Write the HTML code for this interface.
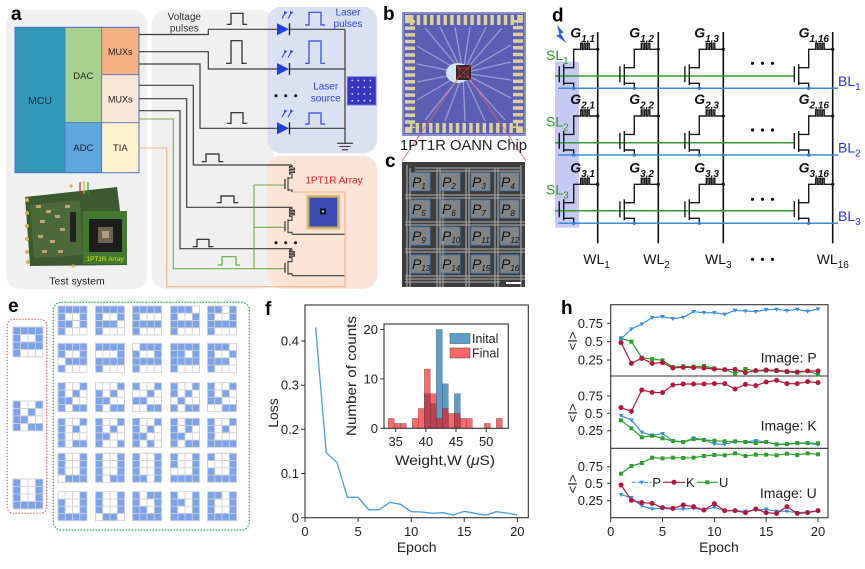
<!DOCTYPE html>
<html><head><meta charset="utf-8">
<style>
html,body{margin:0;padding:0;background:#fff;}
svg{display:block;}
text{font-family:"Liberation Sans",Arial,sans-serif;}
</style></head>
<body>
<svg width="865" height="569" viewBox="0 0 865 569" xmlns="http://www.w3.org/2000/svg">
<defs>
<g id="r1111" fill="#7aa3ee"><rect width="29" height="7.25"/></g>
<g id="r1001" fill="#7aa3ee"><rect width="7.25" height="7.25"/><rect x="21.75" width="7.25" height="7.25"/></g>
<g id="r1101" fill="#7aa3ee"><rect width="14.5" height="7.25"/><rect x="21.75" width="7.25" height="7.25"/></g>
<g id="r1000" fill="#7aa3ee"><rect width="7.25" height="7.25"/></g>
<g id="r1110" fill="#7aa3ee"><rect width="21.75" height="7.25"/></g>
<g id="r0111" fill="#7aa3ee"><rect x="7.25" width="21.75" height="7.25"/></g>
<g id="r0001" fill="#7aa3ee"><rect x="21.75" width="7.25" height="7.25"/></g>
<g id="r1010" fill="#7aa3ee"><rect width="7.25" height="7.25"/><rect x="14.5" width="7.25" height="7.25"/></g>
<g id="r1100" fill="#7aa3ee"><rect width="14.5" height="7.25"/></g>
<g id="r1011" fill="#7aa3ee"><rect width="7.25" height="7.25"/><rect x="14.5" width="14.5" height="7.25"/></g>
<g id="r0010" fill="#7aa3ee"><rect x="14.5" width="7.25" height="7.25"/></g>
<g id="r0011" fill="#7aa3ee"><rect x="14.5" width="14.5" height="7.25"/></g>
<g id="r0100" fill="#7aa3ee"><rect x="7.25" width="7.25" height="7.25"/></g>
<g id="r0110" fill="#7aa3ee"><rect x="7.25" width="14.5" height="7.25"/></g>
<g id="gl" fill="none" stroke="#cfcfcf" stroke-width="0.9"><rect x="0" y="0" width="29" height="29"/><path d="M7.25,0V29M14.5,0V29M21.75,0V29M0,7.25H29M0,14.5H29M0,21.75H29"/></g>

<g id="dc">
<path d="M-38.4,-22V-6 M-34,-24V-3 M-34,-20.6H-24V-39H-17V-45H-15.3V-39H-13.6V-45H-11.9V-39H-10.2V-45H-8.5V-39H0 M-34,-5H-24V0" fill="none" stroke="#1a1a1a" stroke-width="1.4"/>
<circle cx="0" cy="-39" r="1.7" fill="#1a1a1a"/>
<circle cx="-24" cy="0" r="1.7" fill="#2a7fd4"/>
</g>

<g id="ac">
<path d="M0,0V1.5H-2.5V3H2.5V4.5H-2.5V6H2.5V7.5H-2.5V9H0V13H-4 M-4,12V26 M-4,25H0V27" fill="none" stroke="#3a3a3a" stroke-width="1.1"/>
<path d="M-7,14V24" stroke="#3a3a3a" stroke-width="1.3"/>
</g>

<marker id="mP" markerUnits="userSpaceOnUse" markerWidth="20" markerHeight="20" viewBox="-10 -10 20 20" refX="0" refY="0"><path d="M-7,-5H7L0,7Z" fill="#3a8fd9"/></marker>
<marker id="mK" markerUnits="userSpaceOnUse" markerWidth="20" markerHeight="20" viewBox="-10 -10 20 20" refX="0" refY="0"><circle r="7.5" fill="#b3173d"/></marker>
<marker id="mU" markerUnits="userSpaceOnUse" markerWidth="20" markerHeight="20" viewBox="-10 -10 20 20" refX="0" refY="0"><rect x="-6" y="-6" width="12" height="12" fill="#2ca02c"/></marker>
</defs>

<!-- ================= Panel a ================= -->
<rect x="6" y="10" width="141" height="279" rx="14" fill="#f0f0f0"/>
<rect x="151.7" y="10" width="122" height="279" rx="14" fill="#f0f0f0"/>
<rect x="267.3" y="6.7" width="110" height="146.6" rx="14" fill="#d9e1f2"/>
<rect x="267.3" y="155.7" width="110" height="133" rx="14" fill="#fbe3d5"/>
<text x="11" y="20" font-size="19" font-weight="bold">a</text>

<rect x="15" y="27.3" width="50" height="145.4" fill="#3399bb"/>
<rect x="65" y="27.3" width="36.7" height="95.4" fill="#a9d18e"/>
<rect x="101.7" y="27.3" width="37.3" height="47.4" fill="#f4b183"/>
<rect x="101.7" y="74.7" width="37.3" height="48" fill="#fbe5d6"/>
<rect x="65" y="122.7" width="36.7" height="50" fill="#5ea6dc"/>
<rect x="101.7" y="122.7" width="37.3" height="50" fill="#fff2cc"/>
<path d="M65,27.3V172.7 M101.7,27.3V172.7 M65,122.7H139 M101.7,74.7H139" stroke="#4a72b8" stroke-width="0.8" fill="none"/>
<rect x="15" y="27.3" width="124" height="145.4" fill="none" stroke="#4472c4" stroke-width="1"/>
<text x="40" y="104" font-size="10.5" text-anchor="middle" fill="#1a2a3a">MCU</text>
<text x="83.3" y="79" font-size="9.5" text-anchor="middle" fill="#222">DAC</text>
<text x="120.3" y="55" font-size="9" text-anchor="middle" fill="#222">MUXs</text>
<text x="120.3" y="102.5" font-size="9" text-anchor="middle" fill="#222">MUXs</text>
<text x="83.3" y="151" font-size="9.5" text-anchor="middle" fill="#222">ADC</text>
<text x="120.3" y="151" font-size="9.5" text-anchor="middle" fill="#222">TIA</text>

<!-- board photo -->
<g>
<polygon points="25,197 117,187 127,265 30,266" fill="#3b5a30"/>
<polygon points="30,205 80,200 83,255 34,258" fill="#4a6a3a"/>
<g fill="#c9a070">
<rect x="36" y="205" width="5" height="3"/><rect x="46" y="210" width="5" height="3"/><rect x="40" y="220" width="5" height="3"/><rect x="55" y="215" width="5" height="3"/><rect x="38" y="235" width="5" height="3"/><rect x="50" y="240" width="5" height="3"/><rect x="42" y="250" width="5" height="3"/><rect x="60" y="228" width="5" height="3"/><rect x="65" y="205" width="5" height="3"/><rect x="58" y="250" width="5" height="3"/>
</g>
<g fill="#d8b050"><circle cx="27" cy="200" r="2"/><circle cx="27" cy="213" r="2"/><circle cx="27" cy="226" r="2"/><circle cx="27" cy="239" r="2"/><circle cx="27" cy="252" r="2"/><circle cx="28" cy="262" r="2"/><circle cx="71" cy="186" r="1.6"/><circle cx="73" cy="266" r="1.6"/></g>
<path d="M80,195V182 M84,194V181 M88,194V182" stroke-width="1.2" fill="none"/>
<path d="M80,195V182" stroke="#d02020" stroke-width="1.2"/>
<path d="M84,194V181" stroke="#d0c020" stroke-width="1.2"/>
<path d="M88,194V182" stroke="#20a020" stroke-width="1.2"/>
<rect x="70" y="212" width="6" height="30" fill="#222"/>
<rect x="83" y="211" width="44" height="53" fill="#3f7a2e"/>
<rect x="89" y="219" width="33" height="33" fill="#1d1d1d"/>
<rect x="98" y="227" width="15" height="16" fill="#6e6250"/>
<rect x="102" y="231" width="7" height="7" fill="#b0a080"/>
<text x="105" y="261" font-size="6.5" text-anchor="middle" fill="#e6e600">1PT1R Array</text>
</g>
<text x="77" y="284.5" font-size="10.5" text-anchor="middle" fill="#222">Test system</text>

<text x="184.3" y="20" font-size="10" text-anchor="middle" fill="#333">Voltage</text>
<text x="184.3" y="31.5" font-size="10" text-anchor="middle" fill="#333">pulses</text>

<!-- wiring -->
<path d="M139,34.5H208.3V29.3H277 M139,51.7H208.3V69H277 M139,64H200V128.3H277 M139,85.3H193.3V165H292 M139,98.7H186.7V207.3H292 M139,110.7H180V248.7H292 M289.5,29.3H345 M289.5,69H345 M289.5,128.3H345 M345,29.3V143.3 M292,234.3H345 M292,275.7H345" fill="none" stroke="#3c3c3c" stroke-width="1.2"/>
<path d="M337,143.3H353 M339.5,146.5H350.5 M342,149.7H348" stroke="#333" stroke-width="1.1"/>
<path d="M139,119H173.3V268.7H254 M254,185V268.7 M254,185H285 M254,227.3H285 M254,268.7H285" fill="none" stroke="#70ad47" stroke-width="1.1"/>
<path d="M139,148H166.7V286.7H345V192H292" fill="none" stroke="#f4b183" stroke-width="1.1"/>

<!-- voltage pulses -->
<path d="M226.7,24.3H231V13.3H243V24.3H247.3 M226,63.3H231V40.7H242V63.3H246.7 M226.7,123.3H231V112.7H243V123.3H247.3 M201.7,161.7H206V154H219V161.7H223.3 M216.7,202.7H221V196H234V202.7H238.3 M192.7,246.7H197V239.3H209V246.7H213.3" fill="none" stroke="#222" stroke-width="1.2"/>
<path d="M218,265H222V256.7H236V265H240" fill="none" stroke="#5cb03a" stroke-width="1.2"/>
<!-- laser pulses -->
<path d="M305,25H309V12.3H321V25H325 M305,63.3H309V41H321V63.3H325 M305,124H309V113H321V124H325" fill="none" stroke="#2a45ee" stroke-width="1.2"/>

<!-- diodes -->
<g fill="#1f3de0">
<path d="M277,23.3V35.3L289,29.3Z"/><path d="M277,63V75L289,69Z"/><path d="M277,122.3V134.3L289,128.3Z"/>
</g>
<path d="M289.5,23.3V35.3 M289.5,63V75 M289.5,122.3V134.3" stroke="#1a1a1a" stroke-width="1.3"/>
<g stroke="#2a45ee" stroke-width="1.1" fill="#2a45ee">
<path d="M282,18.5L285.5,12.5 M288,18.5L291.5,12.5 M282,57.5L285.5,51.5 M288,57.5L291.5,51.5 M282,117L285.5,111 M288,117L291.5,111"/>
<path d="M284,11L287.5,12.5L284.2,14.5Z M290,11L293.5,12.5L290.2,14.5Z M284,50L287.5,51.5L284.2,53.5Z M290,50L293.5,51.5L290.2,53.5Z M284,109.5L287.5,111L284.2,113Z M290,109.5L293.5,111L290.2,113Z" stroke="none"/>
</g>
<g fill="#111"><circle cx="276" cy="95.7" r="1.5"/><circle cx="285.7" cy="95.7" r="1.5"/><circle cx="295.7" cy="95.7" r="1.5"/>
<circle cx="276" cy="242.7" r="1.5"/><circle cx="285.7" cy="242.7" r="1.5"/><circle cx="295.5" cy="242.7" r="1.5"/></g>
<text x="348" y="15.5" font-size="10" text-anchor="middle" fill="#2a45ee">Laser</text>
<text x="348" y="27" font-size="10" text-anchor="middle" fill="#2a45ee">pulses</text>
<text x="325.7" y="89.3" font-size="10" text-anchor="middle" fill="#2a45ee">Laser</text>
<text x="325.7" y="101.7" font-size="10" text-anchor="middle" fill="#2a45ee">source</text>
<rect x="347.3" y="76.7" width="28.7" height="28.3" fill="#3535c0" stroke="#7a7ae0" stroke-width="0.8"/>
<g fill="#d8d8ff">
<circle cx="352.3" cy="80.5" r="0.9"/><circle cx="358.3" cy="80.5" r="0.9"/><circle cx="364.3" cy="80.5" r="0.9"/><circle cx="370.3" cy="80.5" r="0.9"/>
<circle cx="352.3" cy="87.3" r="0.9"/><circle cx="358.3" cy="87.3" r="0.9"/><circle cx="364.3" cy="87.3" r="0.9"/><circle cx="370.3" cy="87.3" r="0.9"/>
<circle cx="352.3" cy="94" r="0.9"/><circle cx="358.3" cy="94" r="0.9"/><circle cx="364.3" cy="94" r="0.9"/><circle cx="370.3" cy="94" r="0.9"/>
<circle cx="352.3" cy="100.7" r="0.9"/><circle cx="358.3" cy="100.7" r="0.9"/><circle cx="364.3" cy="100.7" r="0.9"/><circle cx="370.3" cy="100.7" r="0.9"/>
</g>
<!-- 1PT1R cells -->
<use href="#ac" x="292" y="165"/>
<use href="#ac" x="292" y="207.3"/>
<use href="#ac" x="292" y="248.7"/>
<text x="334" y="183.5" font-size="10" text-anchor="middle" fill="#e82020">1PT1R Array</text>
<rect x="306.7" y="195" width="33.3" height="34.3" fill="#c9a860"/>
<rect x="309.5" y="197.8" width="27.7" height="28.7" fill="#3a4bb5"/>
<rect x="306.7" y="195" width="33.3" height="34.3" fill="none" stroke="#e8d8a0" stroke-width="2.2" stroke-dasharray="1.2 1.2"/>
<rect x="320" y="208.5" width="6" height="6" fill="#111"/>
<circle cx="323" cy="211.5" r="1.2" fill="#7fe0c0"/>

<!-- ================= Panel b ================= -->
<text x="383" y="20" font-size="19" font-weight="bold">b</text>
<rect x="402" y="12" width="124" height="124" fill="#8b8fd2"/>
<rect x="404" y="14" width="120" height="120" fill="#5a60b4"/>
<rect x="410" y="20" width="108" height="108" fill="none" stroke="#ddd09a" stroke-width="10" stroke-dasharray="3.5 3.2"/>
<rect x="416" y="26" width="96" height="96" fill="#5b5fb3"/>
<g stroke="#b4b6de" stroke-width="1.3" opacity="0.7">
<path d="M463,73L425,28 M463,73L440,27 M463,73L455,27 M463,73L470,27 M463,73L486,27 M463,73L502,28 M463,73L511,45 M463,73L511,62 M463,73L511,80 M463,73L511,98 M463,73L505,120 M463,73L485,121 M463,73L465,121 M463,73L445,121 M463,73L425,120 M463,73L417,100 M463,73L417,82 M463,73L417,64 M463,73L417,46"/>
</g>
<ellipse cx="458" cy="73" rx="12" ry="10" fill="#cfe6f5"/>
<rect x="456" y="65" width="15" height="15" fill="#2a2a2a"/>
<path d="M456,65L471,80 M471,65L456,80" stroke="#d04040" stroke-width="0.8"/>
<rect x="459" y="68" width="9" height="9" fill="none" stroke="#e03030" stroke-width="0.8"/>
<path d="M458,79L402,161 M470,79L526,161" stroke="#e06060" stroke-width="0.7"/>
<text x="400" y="150" font-size="15" fill="#222" textLength="127" lengthAdjust="spacingAndGlyphs">1PT1R OANN Chip</text>

<!-- ================= Panel c ================= -->
<text x="385" y="167" font-size="19" font-weight="bold">c</text>
<rect x="402" y="162" width="123" height="125" fill="#3d3d3d"/>
<g stroke="#bdbdbd" stroke-width="1.3" opacity="0.75">
<path d="M405,195H525 M405,198H525 M405,222H525 M405,225H525 M405,249H525 M405,252H525 M405,276H525 M405,279H525 M405,282H500"/>
<path d="M407,165V287 M410,168V287 M437,168V287 M440,168V287 M443,175V287 M466,168V287 M469,168V287 M495,168V287 M498,168V287 M521,165V287"/>
<path d="M415,168H520 M415,171H520"/>
</g>
<g fill="#9c9c9c" fill-opacity="0.75" stroke="#3a7fc0" stroke-width="0.9">
<rect x="411" y="172.7" width="19" height="18"/><rect x="441" y="172.7" width="19" height="18"/><rect x="471" y="172.7" width="19" height="18"/><rect x="500" y="172.7" width="19" height="18"/>
<rect x="411" y="200" width="19" height="18"/><rect x="441" y="200" width="19" height="18"/><rect x="471" y="200" width="19" height="18"/><rect x="500" y="200" width="19" height="18"/>
<rect x="411" y="227" width="19" height="18"/><rect x="441" y="227" width="19" height="18"/><rect x="471" y="227" width="19" height="18"/><rect x="500" y="227" width="19" height="18"/>
<rect x="411" y="255" width="19" height="18"/><rect x="441" y="255" width="19" height="18"/><rect x="471" y="255" width="19" height="18"/><rect x="500" y="255" width="19" height="18"/>
</g>
<g font-size="14" font-style="italic" fill="#111">
<text x="412" y="187">P<tspan font-size="8" dy="2">1</tspan></text>
<text x="442" y="187">P<tspan font-size="8" dy="2">2</tspan></text>
<text x="472" y="187">P<tspan font-size="8" dy="2">3</tspan></text>
<text x="501" y="187">P<tspan font-size="8" dy="2">4</tspan></text>
<text x="412" y="214">P<tspan font-size="8" dy="2">5</tspan></text>
<text x="442" y="214">P<tspan font-size="8" dy="2">6</tspan></text>
<text x="472" y="214">P<tspan font-size="8" dy="2">7</tspan></text>
<text x="501" y="214">P<tspan font-size="8" dy="2">8</tspan></text>
<text x="412" y="241">P<tspan font-size="8" dy="2">9</tspan></text>
<text x="442" y="241">P<tspan font-size="8" dy="2">10</tspan></text>
<text x="472" y="241">P<tspan font-size="8" dy="2">11</tspan></text>
<text x="501" y="241">P<tspan font-size="8" dy="2">12</tspan></text>
<text x="412" y="269">P<tspan font-size="8" dy="2">13</tspan></text>
<text x="442" y="269">P<tspan font-size="8" dy="2">14</tspan></text>
<text x="472" y="269">P<tspan font-size="8" dy="2">15</tspan></text>
<text x="501" y="269">P<tspan font-size="8" dy="2">16</tspan></text>
</g>
<path d="M506,283H521" stroke="#fff" stroke-width="2"/>

<!-- ================= Panel d ================= -->
<text x="552" y="21.7" font-size="19" font-weight="bold">d</text>
<path d="M557,25L563.5,32.5L560.5,33.5L566.5,43L556,35.5L559.5,34.5Z" fill="#2b5ae0"/>
<rect x="555" y="61.7" width="24" height="166" fill="#c6c9f3"/>
<path d="M597.7,32V243.3 M658.3,32V243.3 M723.3,32V243.3 M832.7,32V243.3" stroke="#111" stroke-width="1.6"/>
<path d="M555,76H795 M555,142.7H795 M555,210.7H795" stroke="#2e9b2e" stroke-width="1.5"/>
<path d="M558,88.3H838 M558,155H838 M558,223.3H838" stroke="#3a8ad6" stroke-width="1.5"/>
<use href="#dc" x="597.7" y="88.3"/><use href="#dc" x="658.3" y="88.3"/><use href="#dc" x="723.3" y="88.3"/><use href="#dc" x="832.7" y="88.3"/>
<use href="#dc" x="597.7" y="155"/><use href="#dc" x="658.3" y="155"/><use href="#dc" x="723.3" y="155"/><use href="#dc" x="832.7" y="155"/>
<use href="#dc" x="597.7" y="223.3"/><use href="#dc" x="658.3" y="223.3"/><use href="#dc" x="723.3" y="223.3"/><use href="#dc" x="832.7" y="223.3"/>
<g fill="#111">
<circle cx="752.5" cy="63.3" r="1.6"/><circle cx="762.5" cy="63.3" r="1.6"/><circle cx="772.5" cy="63.3" r="1.6"/>
<circle cx="752.5" cy="130" r="1.6"/><circle cx="762.5" cy="130" r="1.6"/><circle cx="772.5" cy="130" r="1.6"/>
<circle cx="752.5" cy="199.3" r="1.6"/><circle cx="762.5" cy="199.3" r="1.6"/><circle cx="772.5" cy="199.3" r="1.6"/>
<circle cx="752.5" cy="259.3" r="1.6"/><circle cx="762.5" cy="259.3" r="1.6"/><circle cx="772.5" cy="259.3" r="1.6"/>
</g>
<g font-size="14" font-weight="bold" font-style="italic" fill="#111" text-anchor="end">
<text x="595" y="37.3">G<tspan font-size="10" dy="4.5">1,1</tspan></text>
<text x="654" y="37.3">G<tspan font-size="10" dy="4.5">1,2</tspan></text>
<text x="719" y="37.3">G<tspan font-size="10" dy="4.5">1,3</tspan></text>
<text x="829" y="37.3">G<tspan font-size="10" dy="4.5">1,16</tspan></text>
<text x="595" y="104">G<tspan font-size="10" dy="4.5">2,1</tspan></text>
<text x="654" y="104">G<tspan font-size="10" dy="4.5">2,2</tspan></text>
<text x="719" y="104">G<tspan font-size="10" dy="4.5">2,3</tspan></text>
<text x="829" y="104">G<tspan font-size="10" dy="4.5">2,16</tspan></text>
<text x="595" y="172.3">G<tspan font-size="10" dy="4.5">3,1</tspan></text>
<text x="654" y="172.3">G<tspan font-size="10" dy="4.5">3,2</tspan></text>
<text x="719" y="172.3">G<tspan font-size="10" dy="4.5">3,3</tspan></text>
<text x="829" y="172.3">G<tspan font-size="10" dy="4.5">3,16</tspan></text>
</g>
<g font-size="14" fill="#2e9b2e">
<text x="546" y="60">SL<tspan font-size="10" dy="4">1</tspan></text>
<text x="546" y="126.7">SL<tspan font-size="10" dy="4">2</tspan></text>
<text x="546" y="194.7">SL<tspan font-size="10" dy="4">3</tspan></text>
</g>
<g font-size="14" fill="#2233ee">
<text x="838" y="86">BL<tspan font-size="10" dy="4">1</tspan></text>
<text x="838" y="152.7">BL<tspan font-size="10" dy="4">2</tspan></text>
<text x="838" y="221">BL<tspan font-size="10" dy="4">3</tspan></text>
</g>
<g font-size="14" fill="#111">
<text x="583.3" y="264">WL<tspan font-size="10" dy="4">1</tspan></text>
<text x="643.3" y="264">WL<tspan font-size="10" dy="4">2</tspan></text>
<text x="705" y="264">WL<tspan font-size="10" dy="4">3</tspan></text>
<text x="816.7" y="264">WL<tspan font-size="10" dy="4">16</tspan></text>
</g>

<!-- ================= Panel e ================= -->
<text x="8" y="312" font-size="19" font-weight="bold">e</text>
<rect x="7.3" y="319.3" width="39.4" height="194" rx="6" fill="none" stroke="#f07070" stroke-width="1.2" stroke-dasharray="1.5 1.5"/>
<rect x="53.3" y="302.3" width="196" height="227.7" rx="8" fill="none" stroke="#2db84d" stroke-width="1.3" stroke-dasharray="1.5 1.5"/>
<g transform="translate(13,327) scale(1.03)"><use href="#r1111"/><use href="#r1001" y="7.25"/><use href="#r1111" y="14.5"/><use href="#r1000" y="21.75"/><use href="#gl"/></g>
<g transform="translate(13,401) scale(1.03)"><use href="#r1001"/><use href="#r1010" y="7.25"/><use href="#r1100" y="14.5"/><use href="#r1011" y="21.75"/><use href="#gl"/></g>
<g transform="translate(13,479) scale(1.03)"><use href="#r1001"/><use href="#r1001" y="7.25"/><use href="#r1001" y="14.5"/><use href="#r1111" y="21.75"/><use href="#gl"/></g>

<g transform="translate(58,306)"><use href="#r1111"/><use href="#r1001" y="7.25"/><use href="#r1101" y="14.5"/><use href="#r1000" y="21.75"/><use href="#gl"/></g>
<g transform="translate(95.5,306)"><use href="#r1111"/><use href="#r1001" y="7.25"/><use href="#r1110" y="14.5"/><use href="#r1000" y="21.75"/><use href="#gl"/></g>
<g transform="translate(132.5,306)"><use href="#r1111"/><use href="#r1000" y="7.25"/><use href="#r1111" y="14.5"/><use href="#r1000" y="21.75"/><use href="#gl"/></g>
<g transform="translate(170.5,306)"><use href="#r1110"/><use href="#r1001" y="7.25"/><use href="#r1111" y="14.5"/><use href="#r1000" y="21.75"/><use href="#gl"/></g>
<g transform="translate(207.5,306)"><use href="#r1101"/><use href="#r1001" y="7.25"/><use href="#r1111" y="14.5"/><use href="#r1000" y="21.75"/><use href="#gl"/></g>

<g transform="translate(58,343.3)"><use href="#r1111"/><use href="#r1001" y="7.25"/><use href="#r0111" y="14.5"/><use href="#r1000" y="21.75"/><use href="#gl"/></g>
<g transform="translate(95.5,343.3)"><use href="#r1111"/><use href="#r0001" y="7.25"/><use href="#r1111" y="14.5"/><use href="#r1000" y="21.75"/><use href="#gl"/></g>
<g transform="translate(132.5,343.3)"><use href="#r0111"/><use href="#r1001" y="7.25"/><use href="#r1111" y="14.5"/><use href="#r1000" y="21.75"/><use href="#gl"/></g>
<g transform="translate(170.5,343.3)"><use href="#r1111"/><use href="#r1101" y="7.25"/><use href="#r1111" y="14.5"/><use href="#r1000" y="21.75"/><use href="#gl"/></g>
<g transform="translate(207.5,343.3)"><use href="#r1110"/><use href="#r1001" y="7.25"/><use href="#r1110" y="14.5"/><use href="#r1000" y="21.75"/><use href="#gl"/></g>

<g transform="translate(58,382.7)"><use href="#r1001"/><use href="#r1010" y="7.25"/><use href="#r1100" y="14.5"/><use href="#r1011" y="21.75"/><use href="#gl"/></g>
<g transform="translate(95.5,382.7)"><use href="#r0001"/><use href="#r1010" y="7.25"/><use href="#r1100" y="14.5"/><use href="#r1011" y="21.75"/><use href="#gl"/></g>
<g transform="translate(132.5,382.7)"><use href="#r1001"/><use href="#r0010" y="7.25"/><use href="#r1100" y="14.5"/><use href="#r0011" y="21.75"/><use href="#gl"/></g>
<g transform="translate(170.5,382.7)"><use href="#r1001"/><use href="#r1010" y="7.25"/><use href="#r0100" y="14.5"/><use href="#r1011" y="21.75"/><use href="#gl"/></g>
<g transform="translate(207.5,382.7)"><use href="#r1001"/><use href="#r1010" y="7.25"/><use href="#r1100" y="14.5"/><use href="#r0011" y="21.75"/><use href="#gl"/></g>

<g transform="translate(58,418.3)"><use href="#r1001"/><use href="#r1010" y="7.25"/><use href="#r1000" y="14.5"/><use href="#r1011" y="21.75"/><use href="#gl"/></g>
<g transform="translate(95.5,418.3)"><use href="#r1001"/><use href="#r1010" y="7.25"/><use href="#r1100" y="14.5"/><use href="#r1001" y="21.75"/><use href="#gl"/></g>
<g transform="translate(132.5,418.3)"><use href="#r1001"/><use href="#r1010" y="7.25"/><use href="#r1100" y="14.5"/><use href="#r1010" y="21.75"/><use href="#gl"/></g>
<g transform="translate(170.5,418.3)"><use href="#r1011"/><use href="#r1010" y="7.25"/><use href="#r1100" y="14.5"/><use href="#r1011" y="21.75"/><use href="#gl"/></g>
<g transform="translate(207.5,418.3)"><use href="#r1001"/><use href="#r1010" y="7.25"/><use href="#r1000" y="14.5"/><use href="#r1111" y="21.75"/><use href="#gl"/></g>

<g transform="translate(58,453.3)"><use href="#r1001"/><use href="#r1001" y="7.25"/><use href="#r1001" y="14.5"/><use href="#r0111" y="21.75"/><use href="#gl"/></g>
<g transform="translate(95.5,453.3)"><use href="#r1001"/><use href="#r1001" y="7.25"/><use href="#r1001" y="14.5"/><use href="#r1011" y="21.75"/><use href="#gl"/></g>
<g transform="translate(132.5,453.3)"><use href="#r1001"/><use href="#r1001" y="7.25"/><use href="#r1001" y="14.5"/><use href="#r1101" y="21.75"/><use href="#gl"/></g>
<g transform="translate(170.5,453.3)"><use href="#r1001"/><use href="#r1001" y="7.25"/><use href="#r0001" y="14.5"/><use href="#r1111" y="21.75"/><use href="#gl"/></g>
<g transform="translate(207.5,453.3)"><use href="#r1001"/><use href="#r0001" y="7.25"/><use href="#r1001" y="14.5"/><use href="#r1111" y="21.75"/><use href="#gl"/></g>

<g transform="translate(58,491.7)"><use href="#r0001"/><use href="#r1001" y="7.25"/><use href="#r1001" y="14.5"/><use href="#r1111" y="21.75"/><use href="#gl"/></g>
<g transform="translate(95.5,491.7)"><use href="#r1001"/><use href="#r1001" y="7.25"/><use href="#r1001" y="14.5"/><use href="#r0110" y="21.75"/><use href="#gl"/></g>
<g transform="translate(132.5,491.7)"><use href="#r1011"/><use href="#r1001" y="7.25"/><use href="#r1101" y="14.5"/><use href="#r1111" y="21.75"/><use href="#gl"/></g>
<g transform="translate(170.5,491.7)"><use href="#r1001"/><use href="#r1101" y="7.25"/><use href="#r1001" y="14.5"/><use href="#r1111" y="21.75"/><use href="#gl"/></g>
<g transform="translate(207.5,491.7)"><use href="#r1101"/><use href="#r1001" y="7.25"/><use href="#r1001" y="14.5"/><use href="#r1111" y="21.75"/><use href="#gl"/></g>

<!-- ================= Panel f ================= -->
<text x="265" y="315" font-size="19" font-weight="bold">f</text>
<rect x="305" y="305" width="223.3" height="212.7" fill="none" stroke="#333" stroke-width="1.1"/>
<path d="M305,517.7H301 M305,473.5H301 M305,429.3H301 M305,385.2H301 M305,341H301 M305,517.7V522 M358.1,517.7V522 M411.2,517.7V522 M464.2,517.7V522 M517.3,517.7V522" stroke="#333" stroke-width="1"/>
<g font-size="13" fill="#222" text-anchor="end">
<text x="299" y="522.3">0</text><text x="299" y="478">0.1</text><text x="299" y="433.8">0.2</text><text x="299" y="389.7">0.3</text><text x="299" y="345.5">0.4</text>
</g>
<g font-size="13" fill="#222" text-anchor="middle">
<text x="305" y="536">0</text><text x="358.1" y="536">5</text><text x="411.2" y="536">10</text><text x="464.2" y="536">15</text><text x="517.3" y="536">20</text>
</g>
<text x="416.7" y="552" font-size="14" text-anchor="middle" fill="#222">Epoch</text>
<text transform="translate(278,413) rotate(-90)" font-size="14" text-anchor="middle" fill="#222">Loss</text>
<polyline points="315.6,327.3 326.2,452.7 336.8,462.3 347.5,497.3 358.1,497.3 368.7,509.7 379.3,509.7 389.9,502.3 400.5,504.3 411.2,511.7 421.8,512 432.4,513.3 443,512.7 453.6,515 464.2,511.3 474.8,513.3 485.5,515.3 496.1,511.7 506.7,513 517.3,515" fill="none" stroke="#4a9fe0" stroke-width="1.3"/>

<!-- inset -->
<rect x="384" y="324" width="124.3" height="104.3" fill="#fff"/>
<g stroke="#444" stroke-width="0.5" stroke-opacity="0.6">
<g fill="#1f77b4" fill-opacity="0.72">
<rect x="424.3" y="393.7" width="6" height="34.6"/>
<rect x="430.3" y="403.6" width="6" height="24.7"/>
<rect x="436.3" y="329.5" width="6" height="98.8"/>
<rect x="442.3" y="383.8" width="6" height="44.5"/>
<rect x="454.3" y="393.7" width="6" height="34.6"/>
</g>
<g fill="#ff0000" fill-opacity="0.6">
<rect x="388.3" y="418.4" width="6" height="9.9"/>
<rect x="394.3" y="423.4" width="6" height="4.9"/>
<rect x="400.3" y="423.4" width="6" height="4.9"/>
<rect x="412.3" y="418.4" width="6" height="9.9"/>
<rect x="418.3" y="408.5" width="6" height="19.8"/>
<rect x="424.3" y="369" width="6" height="59.3"/>
<rect x="430.3" y="393.7" width="6" height="34.6"/>
<rect x="436.3" y="418.4" width="6" height="9.9"/>
<rect x="442.3" y="408.5" width="6" height="19.8"/>
<rect x="448.3" y="413.5" width="6" height="14.8"/>
<rect x="454.3" y="413.5" width="6" height="14.8"/>
<rect x="460.3" y="418.4" width="6" height="9.9"/>
<rect x="466.3" y="418.4" width="6" height="9.9"/>
<rect x="484.3" y="423.4" width="6" height="4.9"/>
<rect x="496.3" y="418.4" width="6" height="9.9"/>
</g>
</g>
<rect x="384" y="324" width="124.3" height="104.3" fill="none" stroke="#333" stroke-width="1.1"/>
<path d="M384,428.3H380.5 M384,378.9H380.5 M384,329.5H380.5 M395.7,428.3V432 M425.9,428.3V432 M456,428.3V432 M486.2,428.3V432" stroke="#333" stroke-width="1"/>
<g font-size="13" fill="#222" text-anchor="end">
<text x="378" y="433">0</text><text x="378" y="383.5">10</text><text x="378" y="334">20</text>
</g>
<g font-size="13" fill="#222" text-anchor="middle">
<text x="395.7" y="446">35</text><text x="425.9" y="446">40</text><text x="456" y="446">45</text><text x="486.2" y="446">50</text>
</g>
<text x="445" y="465" font-size="14" text-anchor="middle" fill="#222" textLength="100" lengthAdjust="spacingAndGlyphs">Weight,W (<tspan font-style="italic">μ</tspan>S)</text>
<text transform="translate(356,376) rotate(-90)" font-size="14" text-anchor="middle" fill="#222" textLength="120" lengthAdjust="spacingAndGlyphs">Number of counts</text>
<rect x="450" y="333.5" width="20" height="10" fill="#1f77b4" fill-opacity="0.72" stroke="#444" stroke-width="0.5"/>
<rect x="450" y="348" width="20" height="10" fill="#ff0000" fill-opacity="0.6" stroke="#444" stroke-width="0.5"/>
<text x="472" y="343" font-size="12.5" fill="#222">Inital</text>
<text x="472" y="357.5" font-size="12.5" fill="#222">Final</text>

<!-- ================= Panel h ================= -->
<text x="561" y="314" font-size="19" font-weight="bold">h</text>
<rect x="610.7" y="304.7" width="217.3" height="213" fill="none" stroke="#333" stroke-width="1.1"/>
<path d="M610.7,376H828 M610.7,448.3H828" stroke="#333" stroke-width="1.1"/>
<path d="M610.7,323.3H607 M610.7,341.7H607 M610.7,360H607 M610.7,396H607 M610.7,413.3H607 M610.7,430.7H607 M610.7,466.7H607 M610.7,483.3H607 M610.7,500.7H607 M610.7,517.7V522 M662.5,517.7V522 M714.4,517.7V522 M766.2,517.7V522 M818,517.7V522" stroke="#333" stroke-width="1"/>
<g font-size="13" fill="#222" text-anchor="end">
<text x="603" y="327.8">0.75</text><text x="603" y="346.2">0.5</text><text x="603" y="364.5">0.25</text>
<text x="603" y="400.5">0.75</text><text x="603" y="417.8">0.5</text><text x="603" y="435.2">0.25</text>
<text x="603" y="471.2">0.75</text><text x="603" y="487.8">0.5</text><text x="603" y="505.2">0.25</text>
</g>
<g font-size="13" fill="#222" text-anchor="middle">
<text x="610.7" y="536">0</text><text x="662.5" y="536">5</text><text x="714.4" y="536">10</text><text x="766.2" y="536">15</text><text x="818" y="536">20</text>
</g>
<text x="719" y="552" font-size="14" text-anchor="middle" fill="#222">Epoch</text>
<g font-size="13" fill="#222" text-anchor="middle">
<text transform="translate(577,341) rotate(-90)">&lt;I&gt;</text>
<text transform="translate(577,413) rotate(-90)">&lt;I&gt;</text>
<text transform="translate(577,484) rotate(-90)">&lt;I&gt;</text>
</g>
<g font-size="14" fill="#222" text-anchor="end">
<text x="816.7" y="362.5">Image: P</text>
<text x="816.7" y="430.5">Image: K</text>
<text x="816.7" y="498">Image: U</text>
</g>

<g transform="translate(565,290) scale(0.333333)" fill="none" stroke-width="3.6">
<polyline stroke="#2ca02c" marker-start="url(#mU)" marker-mid="url(#mU)" marker-end="url(#mU)" points="168.1,145 199.2,155 230.3,203 261.4,207 292.5,211 323.6,231 354.7,229 385.8,230 416.9,228 448,235 479.1,239 510.2,250 541.3,237 572.4,243 603.5,242 634.6,243 665.7,246 696.8,248 727.9,243 759,254"/>
<polyline stroke="#b3173d" marker-start="url(#mK)" marker-mid="url(#mK)" marker-end="url(#mK)" points="168.1,158 199.2,220 230.3,205 261.4,220 292.5,218 323.6,234 354.7,232 385.8,233 416.9,234 448,237 479.1,239 510.2,238 541.3,248 572.4,242 603.5,240 634.6,241 665.7,244 696.8,246 727.9,243 759,243"/>
<polyline stroke="#3a8fd9" marker-start="url(#mP)" marker-mid="url(#mP)" marker-end="url(#mP)" points="168.1,147 199.2,117 230.3,102 261.4,83 292.5,80 323.6,86 354.7,82 385.8,65 416.9,68 448,68 479.1,73 510.2,61 541.3,63 572.4,65 603.5,59 634.6,58 665.7,62 696.8,58 727.9,64 759,57"/>

<polyline stroke="#3a8fd9" marker-start="url(#mP)" marker-mid="url(#mP)" marker-end="url(#mP)" points="168.1,377 199.2,390 230.3,427 261.4,436 292.5,431 323.6,452 354.7,456 385.8,444 416.9,449 448,462 479.1,463 510.2,455 541.3,456 572.4,452 603.5,456 634.6,463 665.7,463 696.8,460 727.9,460 759,464"/>
<polyline stroke="#2ca02c" marker-start="url(#mU)" marker-mid="url(#mU)" marker-end="url(#mU)" points="168.1,391 199.2,415 230.3,442 261.4,437 292.5,445 323.6,453 354.7,456 385.8,447 416.9,450 448,452 479.1,454 510.2,454 541.3,456 572.4,459 603.5,456 634.6,463 665.7,462 696.8,459 727.9,459 759,460"/>
<polyline stroke="#b3173d" marker-start="url(#mK)" marker-mid="url(#mK)" marker-end="url(#mK)" points="168.1,353 199.2,364 230.3,300 261.4,307 292.5,308 323.6,285 354.7,282 385.8,282 416.9,282 448,281 479.1,281 510.2,297 541.3,283 572.4,287 603.5,276 634.6,271 665.7,281 696.8,281 727.9,275 759,278"/>

<polyline stroke="#2ca02c" marker-start="url(#mU)" marker-mid="url(#mU)" marker-end="url(#mU)" points="168.1,551 199.2,528 230.3,519 261.4,503 292.5,505 323.6,503 354.7,504 385.8,503 416.9,498 448,495 479.1,496 510.2,490 541.3,498 572.4,494 603.5,494 634.6,496 665.7,491 696.8,495 727.9,490 759,493"/>
<polyline stroke="#3a8fd9" marker-start="url(#mP)" marker-mid="url(#mP)" marker-end="url(#mP)" points="168.1,614 199.2,623 230.3,648 261.4,657 292.5,655 323.6,658 354.7,657 385.8,655 416.9,660 448,652 479.1,662 510.2,662 541.3,664 572.4,660 603.5,658 634.6,664 665.7,664 696.8,668 727.9,666 759,664"/>
<polyline stroke="#b3173d" marker-start="url(#mK)" marker-mid="url(#mK)" marker-end="url(#mK)" points="168.1,585 199.2,631 230.3,638 261.4,640 292.5,653 323.6,655 354.7,645 385.8,650 416.9,660 448,641 479.1,662 510.2,662 541.3,668 572.4,657 603.5,668 634.6,670 665.7,650 696.8,670 727.9,668 759,662"/>
</g>

<!-- legend h -->
<path d="M631.7,482.3H651.7" stroke="#3a8fd9" stroke-width="1.2" stroke-dasharray="4 2"/>
<path d="M639.4,480.6H644L641.7,484.6Z" fill="#3a8fd9"/>
<text x="652.3" y="487" font-size="13" fill="#222">P</text>
<path d="M663,482.3H685" stroke="#b3173d" stroke-width="1.2"/>
<circle cx="674" cy="482.3" r="2.5" fill="#b3173d"/>
<text x="686" y="487" font-size="13" fill="#222">K</text>
<path d="M696.7,482.3H718" stroke="#2ca02c" stroke-width="1.2"/>
<rect x="705.3" y="480.3" width="4" height="4" fill="#2ca02c"/>
<text x="719" y="487" font-size="13" fill="#222">U</text>
</svg>
</body></html>
